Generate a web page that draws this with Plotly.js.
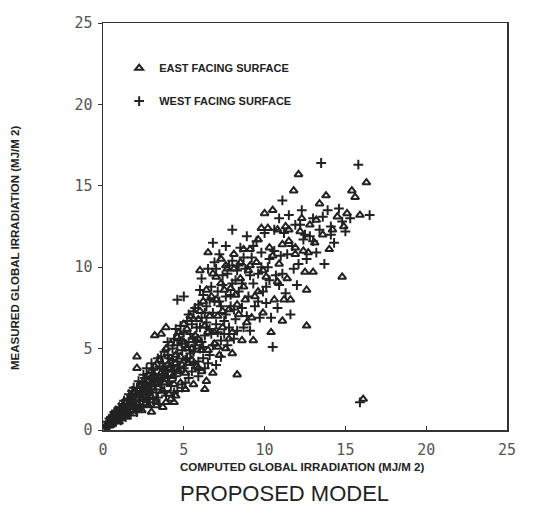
<!DOCTYPE html>
<html>
<head>
<meta charset="utf-8">
<script src="https://cdn.plot.ly/plotly-3.0.1.min.js"></script>
<style>html,body{margin:0;padding:0;background:#fff;}#chart{width:533px;height:519px;}</style>
</head>
<body>
<div id="chart"></div>
<script>
// East facing surface (triangles): computed vs measured global irradiation (MJ/m2)
const eastX = [0.2,0.4,0.6,0.8,0.9,1.1,1.2,1.4,1.5,1.7,1.8,1.9,2.1,2.2,2.4,2.5,2.6,2.8,2.9,3.0,3.1,3.3,3.4,3.6,3.7,3.8,4.0,4.1,
  2.1,2.1,3.2,3.6,3.9,3.9,4.4,4.5,4.2,
  4.3,4.5,4.6,4.8,4.9,5.0,5.1,5.2,5.4,5.5,5.6,5.7,5.9,5.9,6.0,6.1,6.2,6.3,6.4,6.5,6.5,
  6.7,6.8,6.9,7.0,7.1,7.2,7.3,7.4,7.5,7.6,7.7,7.8,8.0,8.0,8.1,8.2,8.3,8.4,8.5,8.6,8.7,8.8,9.0,9.1,9.2,9.3,
  9.5,9.6,9.8,9.9,10.0,10.1,10.3,10.4,10.5,10.6,10.8,10.9,11.1,11.2,11.3,11.4,11.5,11.6,11.8,11.9,12.1,12.2,12.4,12.5,12.6,12.6,12.8,13.0,13.1,
  13.4,13.6,13.8,14.0,14.2,14.5,14.8,14.9,15.1,15.4,15.6,15.9,16.3,16.1,
  0.3,0.5,0.7,0.9,1.0,1.2,1.3,1.5,1.6,1.8,1.9,2.0,2.2,2.3,2.4,2.6,2.7,2.8,3.0,3.1,3.2,3.3,3.5,3.5,3.7,3.8,3.9,4.1,4.2,4.4,4.5,4.6,4.7,4.8,
  5.0,5.1,5.2,5.3,5.5,5.6,5.8,5.9,6.0,6.1,6.3,6.4,6.5,6.6,6.8,6.9,7.0,7.1,7.3,7.4,7.6,7.8,7.9,8.1,8.3,8.5,8.7,8.9,
  9.1,9.4,9.6,9.9,10.2,10.5,10.8,11.1,11.5,11.9,12.3,12.7,13.2];
const eastY = [0.3,0.6,0.5,1.0,0.6,1.3,0.8,1.7,1.1,1.4,2.1,1.0,1.6,2.5,1.2,2.0,2.9,1.5,2.4,1.1,3.1,1.7,2.6,3.5,1.4,2.9,4.0,2.2,
  4.5,3.8,5.8,5.9,6.3,1.7,1.7,2.1,1.9,
  3.3,4.6,5.7,2.9,4.0,6.5,3.5,5.0,7.0,4.3,2.8,5.8,3.8,6.8,9.8,4.9,7.9,2.5,3.0,10.9,6.0,
  8.2,3.5,5.3,9.4,7.0,4.6,10.5,6.3,8.6,5.0,9.9,7.4,4.7,6.0,10.8,8.3,3.4,7.1,9.3,5.5,11.1,8.0,9.8,11.1,6.9,5.5,
  10.3,8.5,12.4,7.2,13.3,9.4,11.2,6.0,13.5,8.0,12.3,10.2,6.7,8.0,12.5,9.3,11.6,8.0,14.7,10.8,15.7,12.2,11.0,9.7,8.6,6.4,12.6,9.7,11.5,
  13.9,12.0,14.4,11.1,12.3,13.1,9.4,12.5,13.3,14.7,14.3,13.2,15.2,1.9,
  0.4,0.3,0.8,1.1,0.5,1.0,1.5,0.8,1.6,1.2,2.3,1.5,1.3,2.7,1.9,1.6,2.6,3.4,2.0,2.8,3.9,1.5,3.2,4.3,2.4,3.5,5.0,3.8,5.3,2.8,4.1,3.6,6.0,4.5,
  5.4,2.5,6.2,4.1,5.0,6.8,3.9,5.6,7.3,3.6,6.4,8.6,4.9,7.0,9.6,6.0,8.0,5.1,9.0,7.3,10.1,5.6,8.7,9.9,7.7,10.3,8.8,6.6,
  10.1,8.2,11.7,9.8,12.4,10.7,9.1,11.4,12.3,11.2,13.0,10.9,12.9];

// West facing surface (crosses)
const westX = [0.1,0.3,0.3,0.5,0.5,0.7,0.7,0.9,1.0,1.0,1.2,1.3,1.3,1.5,1.6,1.6,1.8,1.9,2.0,2.0,2.2,2.3,2.3,2.5,2.5,2.7,2.7,2.8,3.0,3.0,3.1,3.2,3.3,3.4,3.5,3.5,3.7,3.8,3.8,4.0,4.0,4.1,4.2,4.3,4.4,4.5,4.6,4.6,4.7,4.8,4.9,4.6,5.0,
  5.0,5.1,5.2,5.3,5.3,5.5,5.5,5.6,5.7,5.8,5.9,6.0,6.0,6.1,6.2,6.3,6.3,6.4,6.5,6.6,6.6,6.7,6.8,6.8,6.9,7.0,7.0,7.1,7.2,7.3,7.3,7.4,7.5,7.6,7.6,7.7,7.8,7.9,8.0,8.0,
  8.1,8.2,8.3,8.4,8.5,8.6,8.7,8.8,8.9,9.0,9.1,9.2,9.3,9.4,9.5,9.6,9.7,9.8,9.9,10.0,10.1,10.2,10.3,10.4,10.5,10.6,10.7,10.8,10.9,
  11.0,11.1,11.2,11.3,11.5,11.6,11.7,11.9,12.0,12.1,12.3,12.4,12.6,12.8,13.0,13.2,13.4,13.5,13.7,13.9,14.1,14.3,14.6,14.8,15.0,15.3,15.8,16.5,15.9,
  0.2,0.4,0.4,0.6,0.6,0.8,0.8,1.0,1.1,1.1,1.2,1.4,1.4,1.5,
  1.7,1.7,1.8,1.9,2.0,2.1,2.1,2.2,2.4,2.4,2.5,2.6,2.6,2.8,2.9,2.9,3.0,
  3.1,3.2,3.3,3.4,3.5,3.6,3.6,3.7,3.9,3.9,4.0,4.1,4.2,4.3,4.4,4.4,4.5,4.6,4.7,4.8,4.9,4.9,
  5.0,5.1,5.2,5.3,5.4,5.4,5.6,5.6,5.7,5.8,5.9,5.9,6.0,6.1,6.2,6.2,6.3,6.4,6.5,6.6,6.7,6.8,6.9,
  7.0,7.1,7.2,7.3,7.4,7.5,7.6,7.7,7.8,7.9,8.0,8.1,8.2,8.3,8.4,8.6,8.7,8.9,9.1,9.3,9.6,9.8,10.1,10.3,10.6,10.9,11.1,11.4,11.8,12.2,12.5,13.0,13.6,14.1,
  0.9,1.2,1.5,1.8,2.0,2.3,2.5,2.7,3.0,3.2,3.4,3.7,4.0,4.3,4.6,5.1,5.6,6.1];
const westY = [0.1,0.2,0.5,0.4,0.8,0.6,1.1,0.9,1.4,0.7,1.1,1.8,0.9,1.5,2.2,1.0,1.7,2.6,1.3,2.1,3.0,1.8,2.4,3.4,1.5,2.7,3.8,2.0,2.9,4.1,1.9,3.4,2.3,4.4,3.0,1.6,3.8,4.8,2.4,3.3,5.4,4.4,2.7,5.0,3.7,6.2,4.2,2.4,5.5,3.6,4.9,8.0,8.2,
  6.0,2.9,4.4,7.1,5.4,3.6,6.5,4.8,7.5,5.5,4.2,6.3,8.6,9.3,5.1,7.2,3.8,6.6,9.9,4.6,8.0,5.9,11.5,7.2,10.3,6.5,4.0,8.5,10.8,5.5,7.6,9.5,6.7,11.3,8.2,5.2,10.1,7.6,12.3,9.0,
  5.6,6.8,9.8,8.5,11.2,7.5,6.3,9.9,11.9,8.2,6.1,10.6,9.0,7.6,11.6,9.6,6.9,10.9,8.5,12.1,7.8,10.0,9.2,6.9,5.1,11.0,9.5,7.5,13.0,
  10.7,14.1,12.1,8.4,13.2,7.1,11.3,12.6,8.9,10.2,13.5,11.7,10.5,11.9,13.0,10.9,12.3,16.4,10.2,13.5,12.0,11.5,13.6,12.8,12.2,13.0,16.3,13.2,1.7,
  0.2,0.3,0.7,0.4,0.9,0.5,1.2,0.9,1.2,0.6,1.6,1.2,0.8,1.9,
  1.1,1.9,2.4,1.4,1.8,2.6,1.1,2.0,2.3,2.9,1.8,2.5,3.2,2.4,3.1,1.7,2.5,
  3.7,2.7,3.2,2.0,3.9,2.8,4.5,3.2,3.6,2.1,4.6,3.0,3.9,4.3,2.3,5.6,3.3,4.7,3.9,6.4,2.6,5.5,
  3.8,5.1,6.7,3.2,4.7,5.9,7.3,4.1,5.2,6.3,3.3,7.7,5.0,6.9,4.4,8.3,5.8,7.6,4.1,6.2,8.8,5.2,7.9,
  9.9,6.0,7.9,4.5,8.9,5.9,7.1,9.6,6.3,8.3,10.4,7.4,9.2,6.1,10.1,9.0,10.6,7.0,9.5,11.3,7.9,10.0,8.8,10.5,12.3,8.9,9.6,10.8,9.9,12.6,12.0,11.6,13.1,12.5,
  1.0,1.4,1.3,2.0,2.2,2.2,2.8,2.2,3.5,2.8,3.1,4.1,3.7,3.6,5.2,4.3,5.6,5.4];

const seriesNames = ['EAST FACING SURFACE', 'WEST FACING SURFACE'];
const tickVals = [0, 5, 10, 15, 20, 25];
const tickText = ['0', '5', '10', '15', '20', '25'];

const ink = '#222';
const traces = [
  {x: eastX, y: eastY, name: seriesNames[0], type: 'scatter', mode: 'markers', legendgroup: 'e',
   marker: {symbol: 'triangle-up-open', size: 7, color: ink, line: {width: 2, color: ink}}},
  {x: westX, y: westY, name: seriesNames[1], type: 'scatter', mode: 'markers', legendgroup: 'w',
   marker: {symbol: 'cross-thin-open', size: 7, color: ink, line: {width: 2, color: ink}}}
];

const axisCommon = {
  range: [0, 25], tickvals: tickVals, ticktext: tickText,
  showgrid: false, zeroline: false, showline: true, mirror: true,
  linecolor: '#333', linewidth: 1.5, ticks: 'outside', ticklen: 4, tickcolor: '#333',
  tickfont: {family: 'DejaVu Sans Mono', size: 15, color: '#555'}
};

const layout = {
  width: 533, height: 519,
  margin: {l: 103, r: 26, t: 23, b: 89},
  paper_bgcolor: '#fff', plot_bgcolor: '#fff',
  xaxis: Object.assign({}, axisCommon, {ticks: 'inside', ticklabelstandoff: 5}),
  yaxis: Object.assign({}, axisCommon, {ticklabelstandoff: 2}),
  showlegend: true,
  legend: {x: 0.04, y: 0.925, xanchor: 'left', yanchor: 'top', bgcolor: 'rgba(0,0,0,0)',
    traceorder: 'grouped', tracegroupgap: 14,
    font: {family: 'Liberation Sans', size: 11, color: '#222', weight: 'bold'}},
  annotations: [
    {text: '<b>MEASURED GLOBAL IRRADIATION (MJ/M 2)</b>', xref: 'paper', yref: 'paper', x: -0.218, y: 0.447,
     xanchor: 'center', yanchor: 'middle',
     textangle: -90, showarrow: false, font: {family: 'Liberation Sans', size: 11.5, color: '#222'}},
    {text: '<b>COMPUTED GLOBAL IRRADIATION (MJ/M 2)</b>', xref: 'paper', yref: 'paper', x: 0.493, y: -0.091,
     xanchor: 'center', yanchor: 'middle',
     showarrow: false, font: {family: 'Liberation Sans', size: 11.5, color: '#222'}},
    {text: 'PROPOSED MODEL', xref: 'paper', yref: 'paper', x: 0.45, y: -0.155,
     xanchor: 'center', yanchor: 'middle',
     showarrow: false, font: {family: 'Liberation Sans', size: 22, color: '#222'}}
  ]
};

Plotly.newPlot('chart', traces, layout, {displayModeBar: false, staticPlot: true});
</script>
</body>
</html>
